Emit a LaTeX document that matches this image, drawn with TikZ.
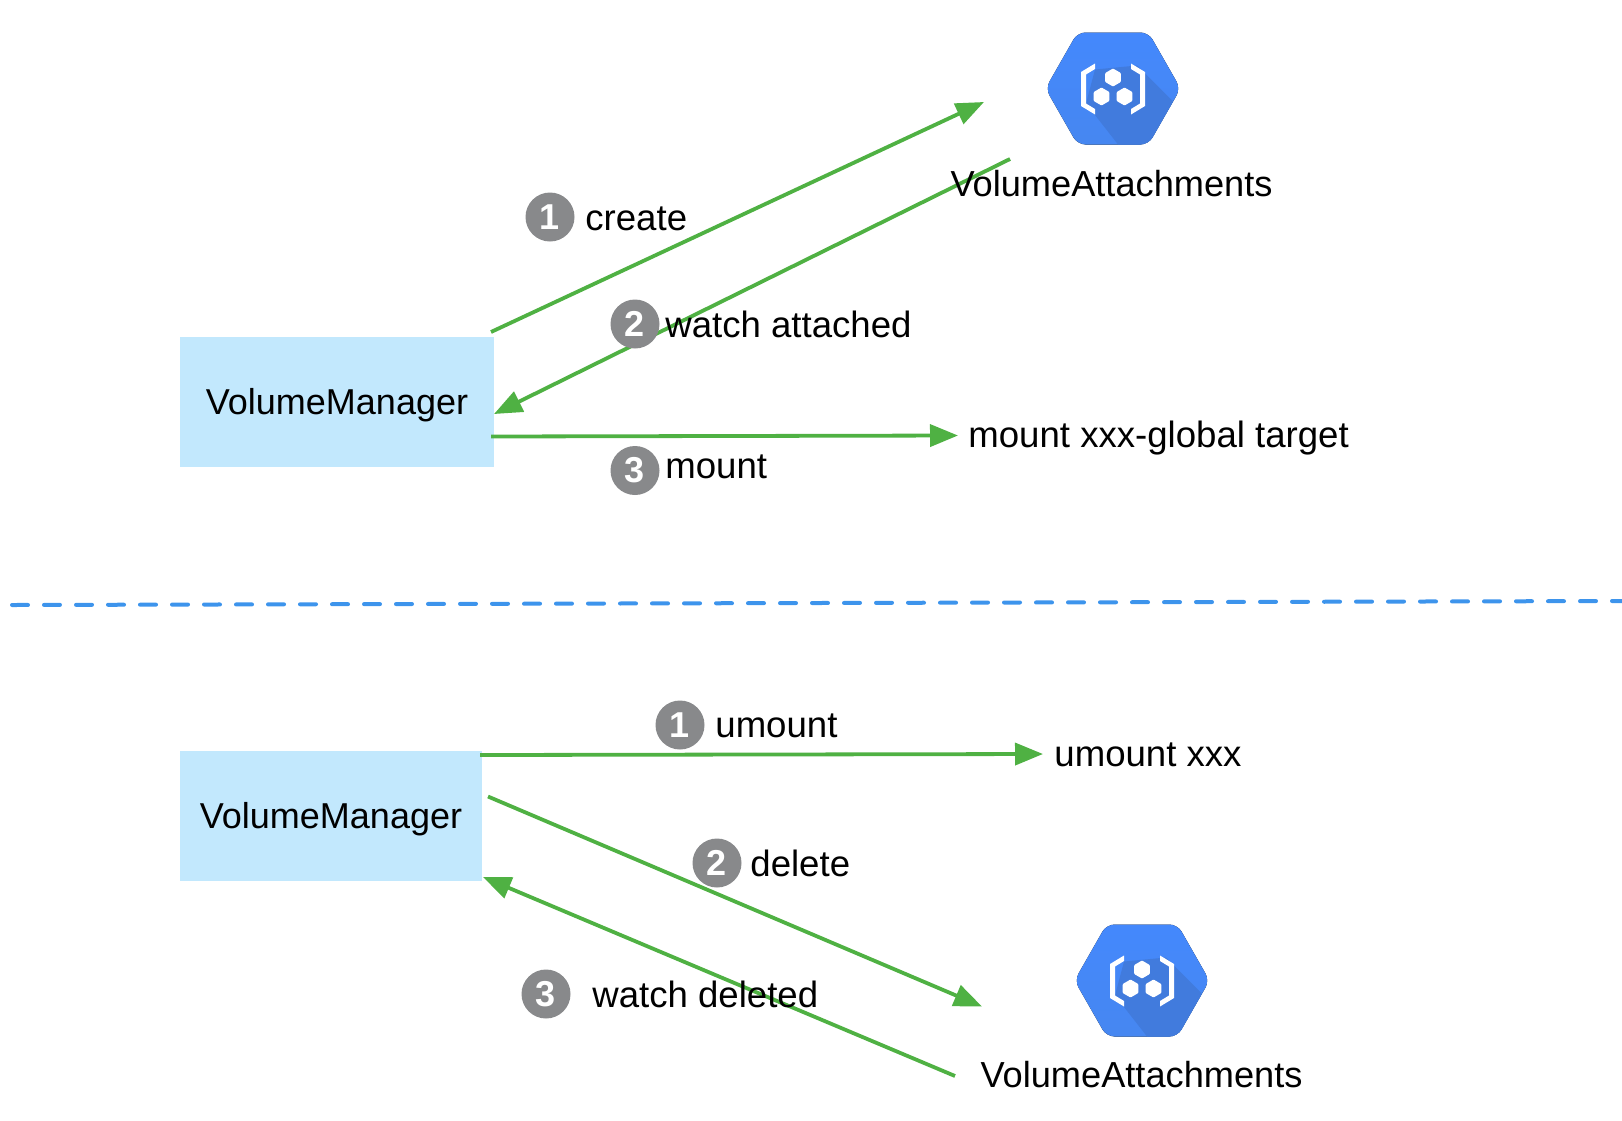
\documentclass[tikz,border=0pt]{standalone}
\usepackage{fontspec}
\setmainfont{Liberation Sans}
\usetikzlibrary{arrows.meta}
\definecolor{boxblue}{HTML}{C2E8FD}
\definecolor{flowgreen}{HTML}{4FB143}
\definecolor{badgegray}{HTML}{88898B}
\definecolor{splitblue}{HTML}{3D94EC}
\definecolor{hextop}{HTML}{4488FD}
\definecolor{hexbottom}{HTML}{4687F0}
\definecolor{hexshade}{HTML}{417BDD}
\tikzset{
  gcpicon/.pic={
    \begin{scope}
      \clip[rounded corners=4] (67.5,0) -- (35.5,-56) -- (-35.5,-56) -- (-67.5,0)
        -- (-35.5,56) -- (35.5,56) -- cycle;
      \fill[top color=hextop, bottom color=hexbottom] (-70,-60) rectangle (70,60);
      \fill[hexshade] (-18,-19) -- (24,-23) -- (72,25) -- (72,70) -- (16,70) -- (-27,15) -- cycle;
    \end{scope}
    % brackets
    \fill[white] (-18,-25) -- (-32,-16.5) -- (-32,17.5) -- (-18,26) -- (-18,20.5)
      -- (-27,15) -- (-27,-14) -- (-18,-19.5) -- cycle;
    \fill[white] (18,-25) -- (32,-16.5) -- (32,17.5) -- (18,26) -- (18,20.5)
      -- (27,15) -- (27,-14) -- (18,-19.5) -- cycle;
    % small hexagons
    \foreach \cx/\cy in {0/-11,-11.5/8,11.5/8}{
      \fill[white,shift={(\cx,\cy)},rounded corners=0.4] (90:9) -- (30:9) -- (-30:9)
        -- (-90:9) -- (-150:9) -- (150:9) -- cycle;
    }
  }
}
\begin{document}
\begin{tikzpicture}[x=0.5pt, y=-0.5pt,
                    managerbox/.style={fill=boxblue, minimum width=#1*0.5pt, minimum height=65pt, inner sep=0pt, font=\fontsize{18}{18}\selectfont},
                    flow/.style={draw=flowgreen, line width=1.9pt, -{Triangle[length=14pt,width=11pt]}},
                    badge/.style={circle, fill=badgegray, text=white, minimum size=24.5pt, inner sep=0pt, font=\fontsize{18}{18}\selectfont\bfseries},
                    txt/.style={inner sep=0pt, anchor=mid west, font=\fontsize{18.3}{18}\selectfont},
                    ctxt/.style={inner sep=0pt, anchor=mid, font=\fontsize{18.1}{18}\selectfont}]
  \useasboundingbox (0,0) rectangle (1622,1120);

  % upper half
  \node[managerbox=314] (mgrA) at (337,402) {\raisebox{-1.5pt}[\height][\depth]{VolumeManager}};
  \pic (iconA) at (1113,88.5) {gcpicon};

  \coordinate (createS) at (491,332);
  \coordinate (createE) at (984,102);
  \coordinate (watchA) at (1010,159);
  \coordinate (watchB) at (494,414);
  \coordinate (mountS) at (491,436.5);
  \coordinate (mountE) at (958,435.5);

  \draw[flow] (createS) -- (createE);
  \draw[flow] (watchA) -- (watchB);
  \draw[flow] (mountS) -- (mountE);

  \node[txt] (mountT) at (968,442) {mount xxx-global target};
  \node[ctxt] (attA) at (1111.5,191) {VolumeAttachments};
  \node[badge] (oneA) at (550,217) {1};
  \node[txt] (createL) at (585,225) {create};
  \node[badge] (twoA) at (635,324) {2};
  \node[txt] (attachedL) at (665,332) {watch attached};
  \node[badge] (threeA) at (635,470.5) {3};
  \node[txt] (mountL) at (665,473) {mount};

  % divider
  \coordinate (splitL) at (12,605);
  \coordinate (splitR) at (1622,601);
  \draw[splitblue, line width=2pt, line cap=round, dash pattern=on 8pt off 8pt] (splitL) -- (splitR);

  % lower half
  \node[managerbox=302] (mgrB) at (331,816) {\raisebox{-1.5pt}[\height][\depth]{VolumeManager}};
  \pic (iconB) at (1142,980.5) {gcpicon};

  \coordinate (umountS) at (480,755);
  \coordinate (umountE) at (1043,754);
  \coordinate (deleteS) at (488,796.5);
  \coordinate (deleteE) at (982,1006.5);
  \coordinate (deletedS) at (955,1076);
  \coordinate (deletedE) at (483,877);

  \draw[flow] (umountS) -- (umountE);
  \draw[flow] (deleteS) -- (deleteE);
  \draw[flow] (deletedS) -- (deletedE);

  \node[txt] (umountT) at (1054,761) {umount xxx};
  \node[ctxt] (attB) at (1141.5,1082) {VolumeAttachments};
  \node[badge] (oneB) at (680,725) {1};
  \node[txt] (umountL) at (715,732) {umount};
  \node[badge] (twoB) at (717,863) {2};
  \node[txt] (deleteL) at (750,871) {delete};
  \node[badge] (threeB) at (546,994) {3};
  \node[txt] (deletedL) at (592,1002) {watch deleted};
\end{tikzpicture}
\end{document}
